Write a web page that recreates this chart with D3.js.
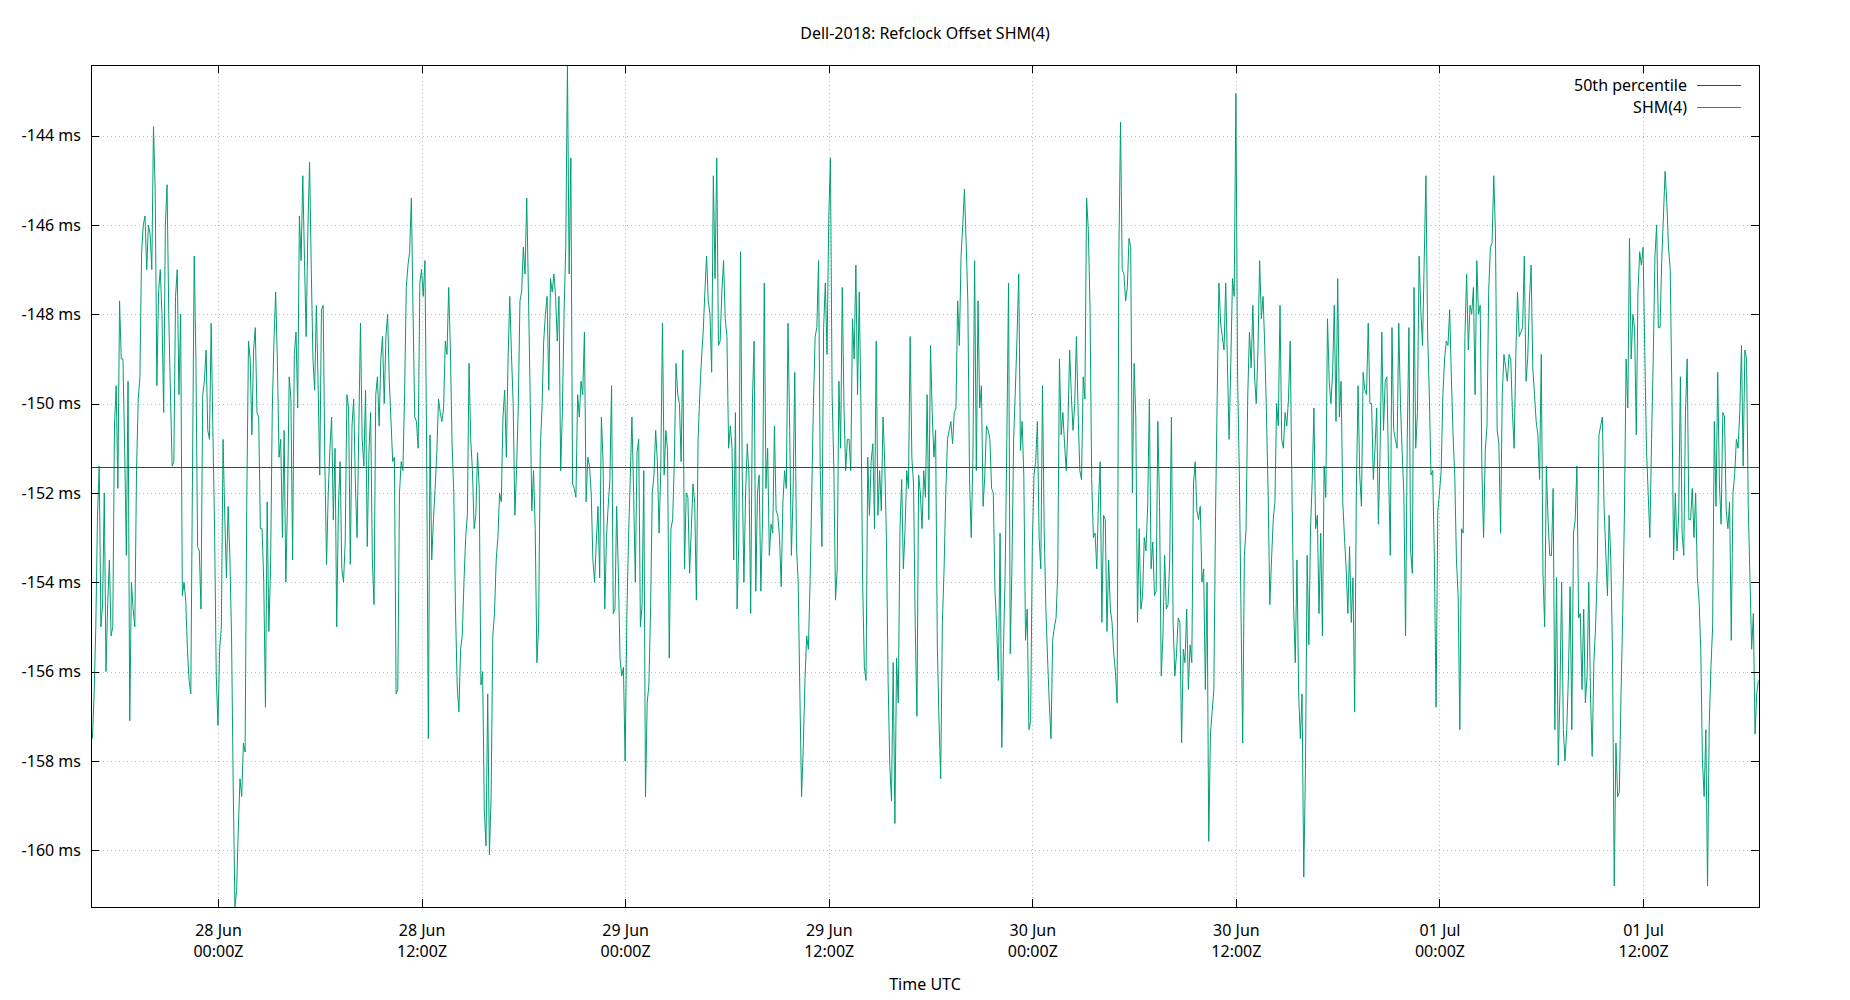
<!DOCTYPE html>
<html>
<head>
<meta charset="utf-8">
<title>Dell-2018: Refclock Offset SHM(4)</title>
<script src="https://cdn.jsdelivr.net/npm/d3@7"></script>
<style>
  body { margin: 0; background: #fff; }
  svg text { font-family: "Noto Sans", sans-serif; font-size: 16px; fill: #000; }
</style>
</head>
<body>
<div id="chart"></div>
<script>
const chartTitle = "Dell-2018: Refclock Offset SHM(4)";
const xLabel = "Time UTC";
const seriesNames = ["50th percentile", "SHM(4)"];
const xRange = ["2018-06-27T16:31:00Z", "2018-07-01T18:50:00Z"];
const sampleStart = "2018-06-27T16:36:00Z";
const sampleStepMinutes = 6;
const percentile50 = -151.42;

// offset in ms, one value every 6 minutes
const offsetMs = [
  -157.5, -156.5, -155.0, -152.5, -151.4, -155.0, -154.5, -152.0, -156.0, -154.5,
  -153.5, -155.2, -155.0, -150.5, -149.6, -151.9, -147.7, -149.0, -149.0, -151.0,
  -153.4, -149.5, -157.1, -154.0, -154.6, -155.0, -151.5, -149.9, -149.4, -146.6,
  -146.0, -145.8, -147.0, -146.0, -146.2, -147.0, -143.8, -145.2, -149.6, -147.5,
  -147.0, -148.0, -150.2, -146.0, -145.1, -148.0, -149.8, -151.4, -151.3, -147.6,
  -147.0, -149.8, -148.0, -154.3, -154.0, -154.4, -155.5, -156.2, -156.5, -151.5,
  -146.7, -149.0, -153.2, -153.3, -154.6, -149.8, -149.5, -148.8, -150.6, -150.8,
  -148.2, -150.6, -152.8, -156.1, -157.2, -155.5, -155.0, -150.8, -152.5, -153.9,
  -152.3, -153.4, -155.2, -158.6, -161.27, -160.9, -159.5, -158.4, -158.8, -157.6,
  -157.8, -152.1, -148.6, -149.0, -150.7, -148.8, -148.3, -150.2, -150.3, -152.8,
  -152.8, -154.0, -156.8, -152.2, -155.1, -153.7, -150.2, -148.6, -147.5, -149.0,
  -151.2, -150.8, -153.0, -150.6, -154.0, -152.2, -149.4, -149.9, -153.5, -148.9,
  -148.4, -150.1, -145.8, -146.8, -144.9, -146.8, -148.5, -146.1, -144.6, -147.0,
  -149.0, -149.7, -147.8, -149.5, -151.6, -147.9, -147.8, -151.3, -153.6, -152.0,
  -151.0, -150.3, -152.6, -151.0, -155.0, -152.3, -151.3, -153.7, -154.0, -153.1,
  -149.8, -150.1, -153.6, -150.5, -149.9, -151.8, -153.0, -150.6, -148.2, -150.8,
  -151.4, -149.7, -153.2, -151.1, -150.2, -153.5, -154.5, -149.8, -149.4, -150.5,
  -149.0, -148.5, -150.0, -148.5, -148.0, -149.5, -150.4, -151.3, -151.2, -156.5,
  -156.4, -152.0, -151.3, -151.5, -149.8, -147.4, -146.9, -146.6, -145.4, -148.0,
  -150.3, -150.4, -151.0, -147.3, -147.0, -147.6, -146.8, -151.0, -157.5, -150.7,
  -153.5, -152.6, -151.9, -151.1, -149.9, -150.2, -150.4, -150.1, -148.6, -148.9,
  -147.4, -148.8, -150.9, -152.0, -154.6, -156.3, -156.9, -155.5, -155.2, -154.0,
  -153.0, -152.5, -149.1, -150.8, -151.5, -152.8, -152.5, -151.1, -151.9, -156.3,
  -156.0, -159.1, -159.9, -156.5, -160.1, -158.8, -155.2, -154.7, -153.5, -153.0,
  -152.0, -152.2, -150.3, -149.7, -151.2, -149.0, -147.6, -148.9, -150.0, -152.5,
  -151.5, -150.1, -147.7, -147.5, -146.5, -147.1, -145.4, -147.5, -149.8, -152.4,
  -151.5, -152.8, -155.8, -155.0, -151.0, -150.1, -148.6, -148.0, -147.6, -149.7,
  -147.2, -147.5, -147.1, -147.6, -148.6, -147.6, -151.5, -150.2, -148.0, -146.5,
  -142.42, -147.1, -144.5, -151.8, -151.9, -152.1, -149.8, -150.3, -149.5, -149.8,
  -148.4, -152.2, -151.2, -151.4, -152.0, -153.5, -154.0, -153.1, -152.3, -153.9,
  -150.3, -151.3, -154.6, -153.0, -152.3, -151.7, -149.6, -154.7, -154.6, -152.3,
  -153.8, -155.7, -156.1, -155.9, -158.0, -154.8, -153.0, -151.7, -150.3, -152.0,
  -154.0, -151.1, -150.8, -155.0, -154.5, -151.5, -158.8, -156.7, -156.3, -154.6,
  -152.0, -151.6, -150.6, -151.3, -152.9, -151.5, -148.2, -151.6, -150.6, -151.05,
  -155.7, -152.8, -152.6, -151.3, -149.1, -149.8, -150.0, -151.3, -148.8, -153.7,
  -152.0, -152.1, -153.8, -152.8, -151.8, -152.2, -154.4, -150.8, -149.8, -149.0,
  -148.4, -147.5, -146.7, -147.7, -148.0, -149.3, -144.9, -147.2, -144.5, -148.7,
  -148.6, -147.5, -146.8, -148.1, -148.5, -151.0, -150.5, -151.0, -153.5, -150.2,
  -154.6, -153.1, -146.6, -151.5, -154.0, -152.0, -150.9, -151.6, -154.7, -150.0,
  -148.6, -154.2, -152.0, -151.6, -154.2, -152.6, -147.3, -151.9, -151.0, -153.4,
  -152.7, -152.9, -150.5, -152.4, -152.5, -153.0, -154.1, -152.2, -151.5, -151.9,
  -148.2, -150.6, -153.4, -152.0, -149.3, -153.2, -154.0, -156.5, -158.8, -157.7,
  -156.2, -155.2, -155.5, -154.0, -152.0, -150.0, -148.5, -148.3, -146.8, -151.5,
  -153.2, -148.3, -147.3, -148.9, -145.9, -144.5, -149.8, -151.4, -154.4, -153.7,
  -149.5, -151.0, -147.4, -150.1, -151.5, -150.8, -150.8, -151.5, -148.1, -149.0,
  -146.9, -149.8, -147.5, -150.1, -154.0, -155.9, -156.2, -151.2, -152.5, -151.3,
  -150.9, -152.8, -148.6, -152.5, -151.5, -152.4, -150.3, -151.3, -153.0, -156.2,
  -158.1, -158.9, -155.8, -159.4, -155.7, -156.7, -152.8, -151.7, -153.7, -152.8,
  -151.5, -151.9, -148.5, -151.2, -151.8, -155.0, -157.0, -151.6, -152.0, -152.8,
  -151.5, -152.1, -149.8, -152.6, -148.7, -150.2, -151.2, -150.6, -155.4, -157.1,
  -158.4, -154.9, -153.7, -152.0, -150.8, -150.6, -150.4, -150.9, -150.2, -150.1,
  -147.7, -148.7, -146.7, -146.0, -145.2, -146.4, -147.7, -151.7, -153.0, -151.2,
  -146.8, -151.5, -147.7, -150.1, -149.6, -152.3, -151.6, -150.5, -150.6, -150.8,
  -151.9, -152.0, -154.2, -155.0, -156.2, -152.9, -157.7, -155.5, -153.8, -150.8,
  -147.3, -155.6, -153.6, -150.8, -149.7, -148.5, -147.1, -151.05, -150.4, -151.6,
  -155.3, -154.6, -157.3, -157.1, -153.2, -151.6, -151.3, -150.4, -153.0, -153.7,
  -149.6, -152.8, -154.6, -155.7, -156.7, -157.5, -155.3, -155.0, -154.8, -153.8,
  -149.0, -150.7, -150.2, -150.9, -151.5, -150.5, -148.8, -149.8, -150.6, -150.0,
  -148.5, -150.2, -151.5, -151.7, -149.4, -149.9, -145.4, -146.1, -147.8, -151.7,
  -153.0, -152.9, -153.7, -152.2, -151.3, -154.9, -152.5, -152.6, -155.1, -153.5,
  -154.6, -154.9, -155.6, -156.0, -156.7, -146.7, -143.7, -147.0, -147.1, -147.7,
  -147.4, -146.3, -146.5, -152.0, -149.1, -150.3, -154.9, -152.8, -154.6, -154.3,
  -153.0, -153.3, -152.3, -149.9, -153.7, -153.1, -154.3, -154.2, -150.4, -152.3,
  -156.1, -155.2, -153.4, -154.6, -154.5, -153.5, -150.3, -154.9, -156.1, -155.6,
  -154.8, -154.9, -157.6, -155.5, -155.8, -154.6, -156.4, -155.4, -155.8, -151.8,
  -151.3, -152.4, -152.6, -152.3, -154.0, -153.7, -156.4, -154.0, -159.8, -157.4,
  -156.9, -156.4, -152.5, -149.8, -147.3, -148.2, -148.5, -148.8, -147.3, -149.1,
  -150.8, -149.1, -147.2, -147.6, -143.06, -149.4, -151.5, -154.6, -157.6, -153.4,
  -152.8, -149.8, -148.4, -149.2, -147.8, -149.4, -150.0, -148.8, -146.8, -148.1,
  -147.6, -148.7, -150.2, -152.0, -154.5, -153.5, -152.6, -152.2, -150.0, -150.5,
  -147.8, -150.8, -151.0, -150.2, -150.5, -149.9, -148.6, -151.8, -154.5, -155.8,
  -153.5, -156.5, -157.5, -156.5, -160.6, -158.2, -153.4, -155.4, -152.8, -151.7,
  -150.1, -152.8, -152.5, -154.7, -152.9, -155.2, -151.4, -152.1, -148.1, -149.5,
  -150.0, -149.3, -147.8, -150.4, -147.2, -150.3, -149.5, -152.2, -153.0, -153.7,
  -154.7, -153.2, -154.9, -153.9, -156.9, -152.0, -149.6, -151.6, -152.3, -149.3,
  -149.7, -149.8, -148.2, -150.0, -150.0, -151.7, -151.0, -150.1, -152.7, -151.05,
  -148.4, -150.6, -149.5, -149.4, -151.5, -153.4, -148.3, -150.6, -150.8, -151.0,
  -148.2, -150.0, -151.1, -152.0, -155.2, -150.8, -148.3, -153.3, -153.8, -147.4,
  -151.0, -150.2, -146.7, -147.9, -148.7, -146.8, -144.9, -148.4, -149.8, -151.6,
  -151.5, -153.5, -156.8, -152.4, -152.0, -151.5, -149.8, -149.0, -148.6, -148.7,
  -147.9, -149.4, -150.7, -151.6, -153.5, -154.3, -157.3, -152.8, -152.9, -148.5,
  -147.1, -148.8, -147.8, -148.0, -147.4, -149.8, -146.8, -148.0, -147.8, -151.5,
  -153.0, -151.05, -150.5, -147.5, -146.5, -146.4, -144.9, -146.2, -150.6, -150.9,
  -152.9, -149.8, -148.9, -149.2, -149.5, -148.9, -149.0, -150.2, -151.0, -148.9,
  -147.5, -148.5, -148.4, -148.3, -146.7, -149.5, -149.0, -147.7, -146.9, -149.2,
  -149.8, -150.4, -150.7, -151.7, -148.9, -153.8, -155.0, -151.4, -152.6, -153.4,
  -153.4, -151.9, -157.3, -153.9, -158.1, -156.5, -154.0, -157.3, -158.0, -157.3,
  -156.1, -154.1, -157.3, -152.9, -152.6, -151.4, -154.8, -154.7, -156.4, -154.6,
  -156.7, -156.1, -154.0, -156.5, -157.9, -155.8, -155.0, -153.7, -150.7, -150.5,
  -150.3, -152.3, -153.3, -154.3, -152.5, -153.5, -155.6, -160.8, -157.6, -158.8,
  -158.7, -156.5, -154.7, -152.5, -149.0, -150.1, -146.3, -149.0, -148.0, -148.3,
  -150.7, -147.5, -146.6, -146.9, -146.5, -148.8, -151.0, -152.0, -153.0, -150.8,
  -149.0, -146.7, -146.0, -148.3, -148.3, -146.8, -145.8, -144.8, -145.5, -146.5,
  -147.0, -149.8, -153.5, -152.0, -153.3, -152.5, -149.4, -152.9, -153.4, -150.2,
  -149.0, -152.6, -152.6, -151.9, -153.0, -152.0, -153.9, -154.4, -155.5, -158.0,
  -158.8, -157.3, -160.8, -157.2, -155.9, -155.0, -150.4, -152.3, -149.3, -151.8,
  -152.7, -150.2, -150.3, -152.4, -152.8, -152.2, -155.3, -152.0, -151.6, -150.8,
  -151.0, -150.2, -148.7, -151.4, -148.8, -149.0, -152.3, -153.9, -155.5, -154.7,
  -157.4, -156.5, -156.2
];

const width = 1850;
const height = 1000;
const margin = { top: 65, right: 91, bottom: 93, left: 91 };
const tickLen = 8;

const colors = { percentile: "#9400d3", series: "#009e73", grid: "#bdbdbd" };

const startMs = Date.parse(sampleStart);
const timeAt = i => new Date(startMs + i * sampleStepMinutes * 60000);

const svg = d3.select("#chart")
    .append("svg")
    .attr("width", width)
    .attr("height", height);

const x = d3.scaleUtc()
    .domain(xRange.map(d => new Date(d)))
    .range([margin.left, width - margin.right]);

const y = d3.scaleLinear()
    .domain(d3.extent(offsetMs))
    .range([height - margin.bottom, margin.top]);

const xTicks = x.ticks(d3.utcHour.every(12));
const yTicks = y.ticks(10);

const fmtDay = d3.utcFormat("%d %b");
const fmtHour = d3.utcFormat("%H:%MZ");
const crisp = v => Math.round(v) + 0.5;

// dotted grid
const grid = svg.append("g")
    .attr("stroke", colors.grid)
    .attr("stroke-width", 1)
    .attr("stroke-dasharray", "1,3");

grid.selectAll(".gx")
    .data(xTicks)
    .enter()
    .append("line")
    .attr("x1", d => crisp(x(d)))
    .attr("x2", d => crisp(x(d)))
    .attr("y1", margin.top)
    .attr("y2", height - margin.bottom);

grid.selectAll(".gy")
    .data(yTicks)
    .enter()
    .append("line")
    .attr("x1", margin.left)
    .attr("x2", width - margin.right)
    .attr("y1", d => crisp(y(d)))
    .attr("y2", d => crisp(y(d)));

// series
const line = d3.line()
    .x((d, i) => x(timeAt(i)))
    .y(d => y(d));

svg.append("path")
    .datum(offsetMs)
    .attr("fill", "none")
    .attr("stroke", colors.series)
    .attr("stroke-width", 1)
    .attr("d", line);

svg.append("line")
    .attr("x1", margin.left)
    .attr("x2", width - margin.right)
    .attr("y1", crisp(y(percentile50)))
    .attr("y2", crisp(y(percentile50)))
    .attr("stroke", colors.percentile)
    .attr("stroke-width", 1);

// axes, ticks pointing inward
const styleAxis = g => {
    g.attr("font-family", null).attr("font-size", null);
    g.select(".domain").remove();
    g.selectAll(".tick line").attr("stroke", "#000").attr("shape-rendering", "crispEdges");
};

svg.append("g")
    .attr("transform", `translate(${margin.left},0)`)
    .call(d3.axisLeft(y).tickValues(yTicks).tickSize(-tickLen).tickPadding(10)
        .tickFormat(d => `${d} ms`))
    .call(styleAxis);

svg.append("g")
    .attr("transform", `translate(${width - margin.right},0)`)
    .call(d3.axisRight(y).tickValues(yTicks).tickSize(-tickLen).tickFormat(""))
    .call(styleAxis);

svg.append("g")
    .attr("transform", `translate(0,${margin.top})`)
    .call(d3.axisTop(x).tickValues(xTicks).tickSize(-tickLen).tickFormat(""))
    .call(styleAxis);

const xAxis = svg.append("g")
    .attr("transform", `translate(0,${height - margin.bottom})`)
    .call(d3.axisBottom(x).tickValues(xTicks).tickSize(-tickLen).tickPadding(18))
    .call(styleAxis);

xAxis.selectAll(".tick text").each(function (d) {
    const t = d3.select(this).text(null);
    t.append("tspan").attr("x", 0).text(fmtDay(d));
    t.append("tspan").attr("x", 0).attr("dy", "1.31em").text(fmtHour(d));
});

// border
svg.append("rect")
    .attr("x", margin.left + 0.5)
    .attr("y", margin.top + 0.5)
    .attr("width", width - margin.left - margin.right)
    .attr("height", height - margin.top - margin.bottom)
    .attr("fill", "none")
    .attr("stroke", "#000")
    .attr("stroke-width", 1);

// titles
svg.append("text")
    .attr("x", width / 2)
    .attr("y", 39)
    .attr("text-anchor", "middle")
    .text(chartTitle);

svg.append("text")
    .attr("x", width / 2)
    .attr("y", 990)
    .attr("text-anchor", "middle")
    .text(xLabel);

// legend
const legendColors = [colors.percentile, colors.series];
const legendRight = width - margin.right;
const legend = svg.append("g")
    .selectAll("g")
    .data(seriesNames)
    .enter()
    .append("g")
    .attr("transform", (d, i) => `translate(0,${margin.top + 20.5 + i * 22})`);

legend.append("text")
    .attr("x", legendRight - 72)
    .attr("dy", "0.35em")
    .attr("text-anchor", "end")
    .text(d => d);

legend.append("line")
    .attr("x1", legendRight - 62)
    .attr("x2", legendRight - 18)
    .attr("stroke", (d, i) => legendColors[i])
    .attr("stroke-width", 1);
</script>
</body>
</html>
